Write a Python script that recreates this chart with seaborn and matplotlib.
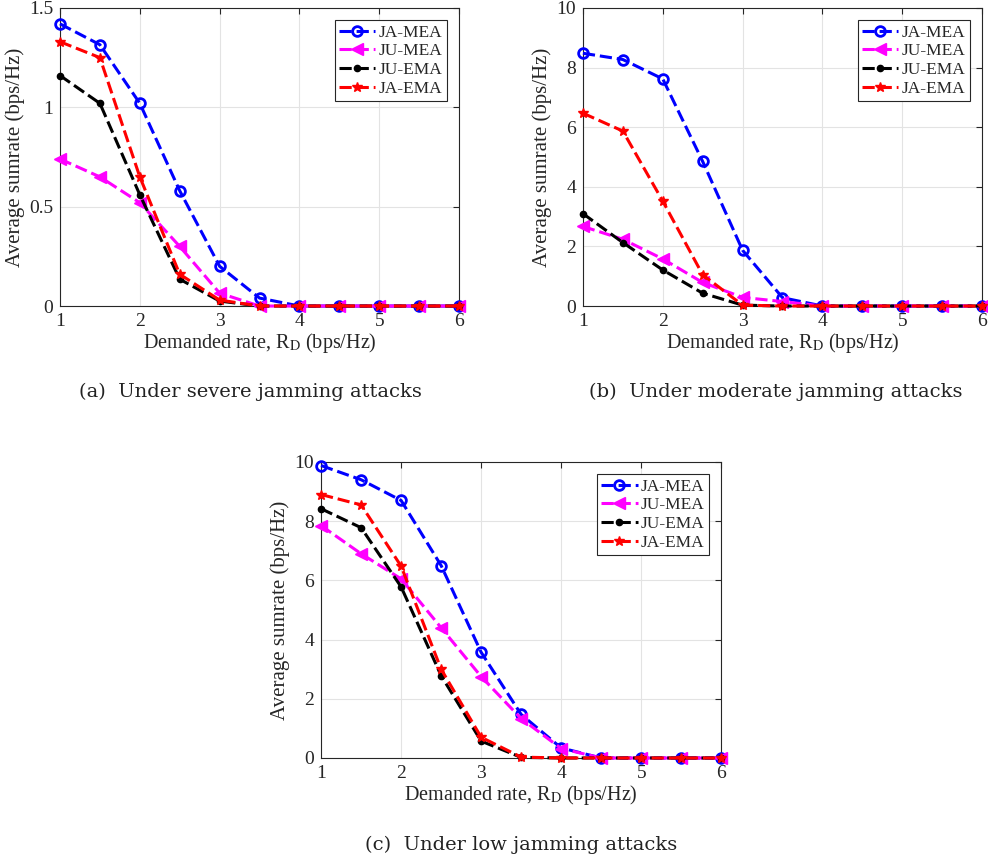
import numpy as np
import pandas as pd
import seaborn as sns
import matplotlib
matplotlib.use('Agg')
import matplotlib.pyplot as plt
from matplotlib.ticker import FuncFormatter

# demanded rate R_D (bps/Hz)
rates = [1, 1.5, 2, 2.5, 3, 3.5, 4, 4.5, 5, 5.5, 6]
schemes = ['JA-MEA', 'JU-MEA', 'JU-EMA', 'JA-EMA']

# (a) severe jamming
severe_ja_mea = [1.42, 1.315, 1.02, 0.58, 0.20, 0.04, 0, 0, 0, 0, 0]
severe_ju_mea = [0.74, 0.65, 0.52, 0.30, 0.065, 0, 0, 0, 0, 0, 0]
severe_ju_ema = [1.16, 1.02, 0.56, 0.135, 0.025, 0, 0, 0, 0, 0, 0]
severe_ja_ema = [1.33, 1.25, 0.65, 0.16, 0.03, 0, 0, 0, 0, 0, 0]

# (b) moderate jamming
moderate_ja_mea = [8.48, 8.27, 7.62, 4.85, 1.87, 0.28, 0, 0, 0, 0, 0]
moderate_ju_mea = [2.67, 2.24, 1.58, 0.79, 0.29, 0.15, 0, 0, 0, 0, 0]
moderate_ju_ema = [3.10, 2.13, 1.21, 0.43, 0.03, 0, 0, 0, 0, 0, 0]
moderate_ja_ema = [6.47, 5.87, 3.52, 1.05, 0.03, 0, 0, 0, 0, 0, 0]

# (c) low jamming
low_ja_mea = [9.88, 9.4, 8.7, 6.5, 3.57, 1.47, 0.34, 0, 0, 0, 0]
low_ju_mea = [7.85, 6.9, 6.05, 4.4, 2.75, 1.33, 0.32, 0, 0, 0, 0]
low_ju_ema = [8.42, 7.78, 5.78, 2.78, 0.57, 0.02, 0, 0, 0, 0, 0]
low_ja_ema = [8.9, 8.55, 6.48, 3.0, 0.7, 0.03, 0, 0, 0, 0, 0]

styles = {
    'JA-MEA': dict(color='#0000ff', marker='o', ms=7, mfc='none', mew=2),
    'JU-MEA': dict(color='#ff00ff', marker='<', ms=9, mfc='#ff00ff', mew=1),
    'JU-EMA': dict(color='#000000', marker='.', ms=9, mfc='#000000', mew=1),
    'JA-EMA': dict(color='#ff0000', marker='*', ms=7, mfc='#ff0000', mew=1),
}

sns.set_style('whitegrid')
plt.rcParams['font.family'] = ['Liberation Serif', 'DejaVu Serif']
plt.rcParams['mathtext.fontset'] = 'stix'


def draw_panel(ax, series, ymax, yticks):
    for name, vals in zip(schemes, series):
        df = pd.DataFrame({'rate': rates, 'sumrate': vals})
        st = styles[name]
        sns.lineplot(data=df, x='rate', y='sumrate', ax=ax, label=name,
                     color=st['color'], marker=st['marker'], markersize=st['ms'],
                     markerfacecolor=st['mfc'], markeredgecolor=st['color'],
                     markeredgewidth=st['mew'], linewidth=2.2, dashes=(4, 1.6),
                     clip_on=False, zorder=3)
    ax.set_xlim(1, 6)
    ax.set_ylim(0, ymax)
    ax.set_xticks([1, 2, 3, 4, 5, 6])
    ax.set_yticks(yticks)
    ax.yaxis.set_major_formatter(FuncFormatter(lambda v, p: '%g' % v))
    ax.grid(True, color='#e3e3e3', linewidth=0.8)
    for s in ax.spines.values():
        s.set_color('#262626')
        s.set_linewidth(0.8)
    ax.tick_params(direction='in', top=True, right=True, length=4,
                   labelsize=14, colors='#262626', pad=5)
    ax.set_xlabel(r'Demanded rate, R$_{\mathrm{D}}$ (bps/Hz)', fontsize=14.5,
                  color='#262626', labelpad=1)
    ax.set_ylabel('Average sumrate (bps/Hz)', fontsize=15, color='#262626',
                  labelpad=3)
    leg = ax.legend(loc='upper right', fontsize=12.5, frameon=True, fancybox=False,
                    edgecolor='#262626', framealpha=1, handlelength=2.1,
                    borderpad=0.25, labelspacing=0.15, handletextpad=0.2,
                    borderaxespad=0.7)
    leg.get_frame().set_linewidth(0.8)


fig = plt.figure(figsize=(9.88, 8.64), dpi=100)
ax_a = fig.add_axes([0.0607, 0.6458, 0.404, 0.345])
ax_b = fig.add_axes([0.590, 0.6458, 0.404, 0.345])
ax_c = fig.add_axes([0.325, 0.1227, 0.405, 0.3426])

draw_panel(ax_a, [severe_ja_mea, severe_ju_mea, severe_ju_ema, severe_ja_ema],
           1.5, [0, 0.5, 1, 1.5])
draw_panel(ax_b, [moderate_ja_mea, moderate_ju_mea, moderate_ju_ema, moderate_ja_ema],
           10, [0, 2, 4, 6, 8, 10])
draw_panel(ax_c, [low_ja_mea, low_ju_mea, low_ju_ema, low_ja_ema],
           10, [0, 2, 4, 6, 8, 10])

cap = dict(fontsize=14, family=['DejaVu Serif'], ha='center', va='center',
           color='#222222')
fig.text(0.253, 0.546, '(a)  Under severe jamming attacks', **cap)
fig.text(0.785, 0.546, '(b)  Under moderate jamming attacks', **cap)
fig.text(0.527, 0.022, '(c)  Under low jamming attacks', **cap)

fig.savefig('out.png', dpi=100)
